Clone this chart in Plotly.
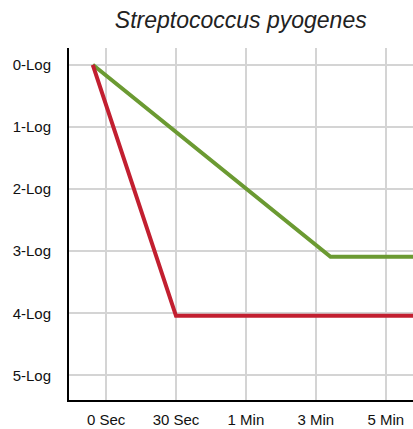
import plotly.graph_objects as go

tick_labels = ["0 Sec", "30 Sec", "1 Min", "3 Min", "5 Min"]
tick_pos = [0, 1, 2, 3, 4]
log_labels = ["0-Log", "1-Log", "2-Log", "3-Log", "4-Log", "5-Log"]
log_pos = [0, 1, 2, 3, 4, 5]

green_x = [-0.19, 3.21, 4.45]
green_y = [0, 3.09, 3.09]
red_x = [-0.19, 1.0, 4.45]
red_y = [0, 4.04, 4.04]

fig = go.Figure()
fig.add_trace(go.Scatter(x=green_x, y=green_y, mode="lines",
                         line=dict(color="#6b9a32", width=4), showlegend=False))
fig.add_trace(go.Scatter(x=red_x, y=red_y, mode="lines",
                         line=dict(color="#c21f30", width=4), showlegend=False))

font = dict(family="Liberation Sans, Arial, sans-serif", size=15, color="#111")
fig.update_layout(
    width=413, height=429,
    margin=dict(l=69, r=0, t=48, b=29),
    plot_bgcolor="white", paper_bgcolor="white",
    title=dict(text="<i>Streptococcus pyogenes</i>", x=0.583, xanchor="center",
               y=0.953, yanchor="middle",
               font=dict(family="Liberation Sans, Arial, sans-serif", size=23, color="#222")),
    xaxis=dict(range=[-0.53, 4.39], tickvals=tick_pos, ticktext=tick_labels,
               showgrid=True, gridcolor="#d4d4d4", gridwidth=2,
               showline=True, linecolor="black", linewidth=2,
               zeroline=False, tickfont=font, ticklabelstandoff=5,
               ticks=""),
    yaxis=dict(range=[5.395, -0.27], tickvals=log_pos, ticktext=log_labels,
               showgrid=True, gridcolor="#d4d4d4", gridwidth=2,
               showline=True, linecolor="black", linewidth=2,
               zeroline=False, tickfont=font, ticklabelstandoff=13,
               ticks=""),
)
fig.write_html("out.html", config={"displayModeBar": False},
               post_script="document.body.style.margin='0px';document.body.style.overflow='hidden';")
